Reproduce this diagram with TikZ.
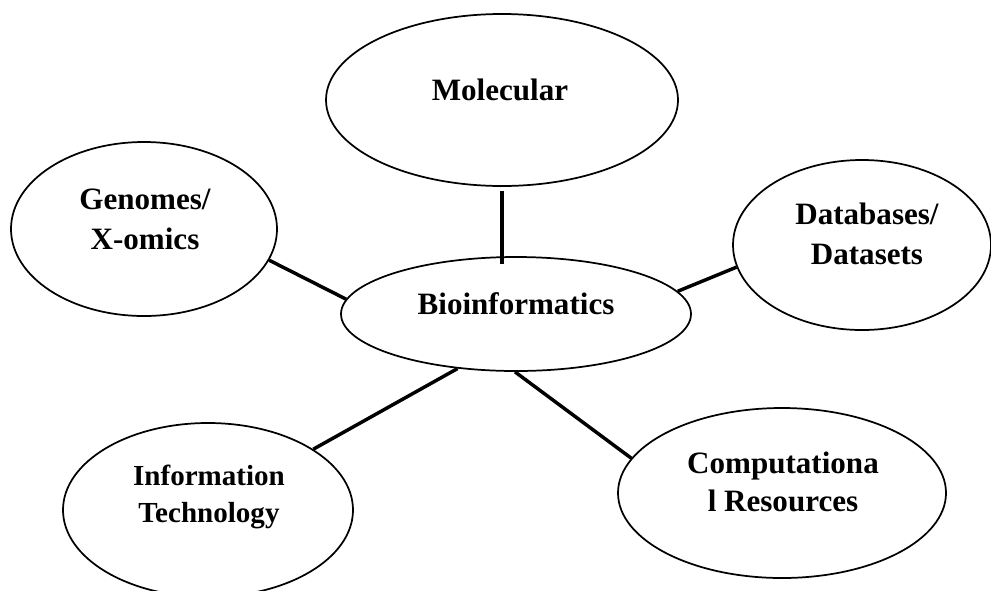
\documentclass[tikz,border=0pt]{standalone}
\usepackage{fontspec}
\setmainfont{Liberation Serif}
\usetikzlibrary{shapes.geometric,calc}

\tikzset{
  bubble/.style={draw, ellipse, line width=1.3pt, inner sep=0pt},
  lbl/.style={align=center, inner sep=0pt, font=\bfseries\fontsize{23.3}{30}\selectfont},
  link/.style={line width=2.6pt}
}

\begin{document}
\begin{tikzpicture}[x=0.75pt,y=-0.75pt]
                \useasboundingbox (0,0) rectangle (991,590);

                \node[bubble, minimum width=264pt, minimum height=129pt] (mol) at (502,100) {};
                \node[bubble, minimum width=199.5pt, minimum height=130.5pt] (gen) at (144,229) {};
                \node[bubble, minimum width=193.5pt, minimum height=127.5pt] (db) at (862,245) {};
                \node[bubble, minimum width=262.5pt, minimum height=85.5pt] (bio) at (516,314) {};
                \node[bubble, minimum width=217.5pt, minimum height=130.5pt] (it) at (208,510) {};
                \node[bubble, minimum width=246pt, minimum height=127.5pt] (comp) at (782,493) {};

                \node[lbl] (mol-t) at (500,89.5) {Molecular};
                \node[lbl] (gen-t) at (145,219) {Genomes/\\X-omics};
                \node[lbl] (db-t) at (867,233.5) {Databases/\\Datasets};
                \node[lbl] (bio-t) at (516,303.5) {Bioinformatics};
                \node[lbl, font=\bfseries\fontsize{21.8}{27.8}\selectfont] (it-t) at (209,496.5) {Information\\Technology};
                \node[lbl, font=\bfseries\fontsize{23.3}{28.5}\selectfont] (comp-t) at (783,482) {Computationa\\l Resources};

                \draw[link] ($(mol.south)+(0,4)$) to ($(mol.south |- bio.north)+(0,8)$);
                \draw[link] (gen.-14) to (bio.175); \draw[link] (db.190) to (bio.8);
                \draw[link] (it.30) to (bio.-137); \draw[link] (comp.167) to (bio.-91);
            \end{tikzpicture}
\end{document}
